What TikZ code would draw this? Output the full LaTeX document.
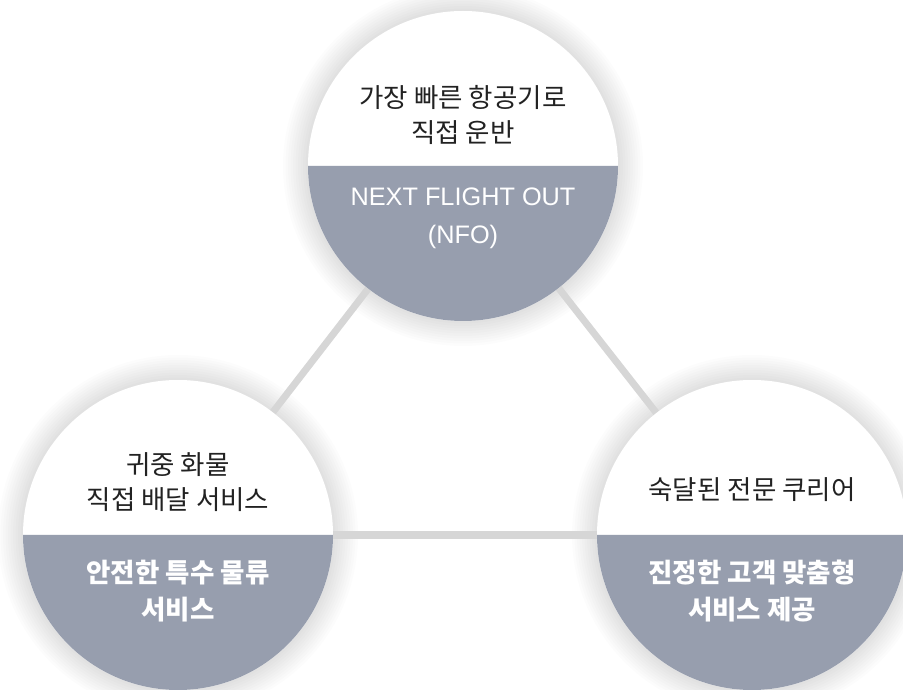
\documentclass[tikz,border=0pt]{standalone}
\usepackage{fontspec}
\setmainfont{Noto Sans CJK KR}
\newfontfamily\latinfont{Liberation Sans}
\usetikzlibrary{backgrounds}
\definecolor{halfgrey}{RGB}{151,158,174}
\definecolor{linkgrey}{RGB}{214,214,214}
\definecolor{inkdark}{RGB}{34,34,34}
\tikzset{
  bubble/.style={circle,minimum size=310pt,inner sep=0pt,outer sep=0pt,fill=white},
  upper/.style={text=inkdark,font=\fontsize{26.5}{35}\selectfont,align=center},
  lower/.style={text=white,font=\fontsize{26.5}{37}\selectfont\bfseries,align=center},
  link/.style={linkgrey,line width=7pt},
}
\begin{document}
\begin{tikzpicture}[x=1pt,y=1pt]
\useasboundingbox (0,0) rectangle (903,689);
  \node[bubble] at (463,523) (nfo) {};
  \node[bubble] at (178,154) (safe) {};
  \node[bubble] at (752,154) (courier) {};
  \begin{pgfonlayer}{background}
    \foreach \c in {nfo,safe,courier}{
      \foreach \s in {1,...,10}
        \fill[black,opacity=0.011] (\c) circle[radius={155+2.5*\s}];
    }
    \draw[link] (nfo)--(safe);
    \draw[link] (nfo)--(courier);
    \draw[link] (safe)--(courier);
  \end{pgfonlayer}
  \foreach \c in {nfo,safe,courier}{
    \fill[halfgrey] (\c.east) arc[start angle=0,end angle=-180,radius=155] -- cycle;
  }
  % upper halves
  \node[upper] at ([yshift=51pt]nfo.center) (nfo-up) {가장 빠른 항공기로\\직접 운반};
  \node[upper] at ([yshift=53pt]safe.center) (safe-up) {귀중 화물\\직접 배달 서비스};
  \node[upper] at ([yshift=45pt]courier.center) (courier-up) {숙달된 전문 쿠리어};
  % lower halves
  \node[lower,font=\latinfont\fontsize{25.3}{38}\selectfont] at ([yshift=-52pt]nfo.center) (nfo-low) {NEXT FLIGHT OUT\\(NFO)};
  \node[lower] at ([yshift=-56pt]safe.center) (safe-low) {안전한 특수 물류\\서비스};
  \node[lower] at ([yshift=-56pt]courier.center) (courier-low) {진정한 고객 맞춤형\\서비스 제공};
\end{tikzpicture}
\end{document}
